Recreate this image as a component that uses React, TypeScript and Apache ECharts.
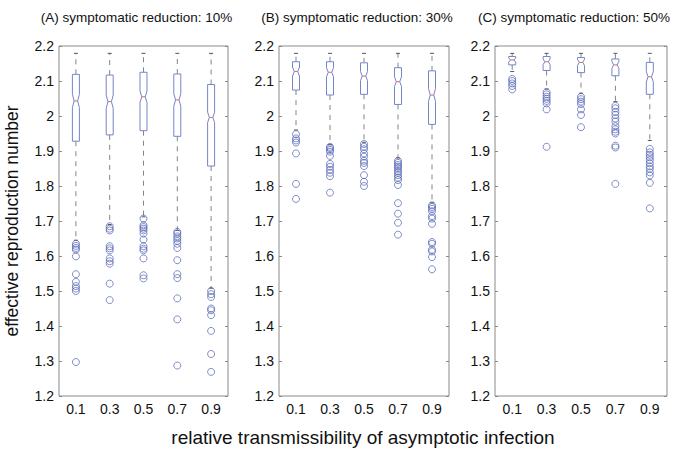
import React, { useEffect, useRef } from 'react';
import * as echarts from 'echarts';

// ---------------- DATA ----------------
const categories = ['0.1', '0.3', '0.5', '0.7', '0.9'];
const panelTitles = [
  '(A) symptomatic reduction: 10%',
  '(B) symptomatic reduction: 30%',
  '(C) symptomatic reduction: 50%',
];
const yAxisName = 'effective reproduction number';
const xAxisName = 'relative transmissibility of asymptotic infection';
const yMin = 1.2;
const yMax = 2.2;
const yStep = 0.1;

// box stats per category: [lower whisker, Q1, median, Q3, upper whisker]
const boxA = [
  [1.645, 1.928, 2.043, 2.119, 2.179],
  [1.690, 1.946, 2.041, 2.117, 2.179],
  [1.712, 1.958, 2.055, 2.125, 2.179],
  [1.673, 1.942, 2.046, 2.120, 2.179],
  [1.508, 1.857, 1.996, 2.090, 2.179],
];
const notchA = [0.019, 0.019, 0.017, 0.018, 0.015];
const outliersA = [
  [1.635, 1.629, 1.623, 1.618, 1.599, 1.548, 1.526, 1.514, 1.507, 1.500, 1.297],
  [1.685, 1.678, 1.673, 1.628, 1.622, 1.616, 1.593, 1.585, 1.578, 1.521, 1.474],
  [1.707, 1.688, 1.683, 1.678, 1.673, 1.664, 1.647, 1.628, 1.621, 1.616, 1.593, 1.545, 1.536],
  [1.669, 1.664, 1.656, 1.650, 1.643, 1.635, 1.623, 1.588, 1.548, 1.537, 1.479, 1.419, 1.287],
  [1.500, 1.491, 1.483, 1.450, 1.445, 1.431, 1.386, 1.320, 1.269],
];

const boxB = [
  [1.960, 2.074, 2.127, 2.155, 2.179],
  [1.918, 2.060, 2.125, 2.155, 2.179],
  [1.925, 2.062, 2.114, 2.152, 2.179],
  [1.880, 2.033, 2.098, 2.138, 2.179],
  [1.752, 1.976, 2.060, 2.129, 2.179],
];
const notchB = [0.013, 0.013, 0.013, 0.014, 0.018];
const outliersB = [
  [1.948, 1.936, 1.930, 1.924, 1.893, 1.806, 1.763],
  [1.912, 1.908, 1.903, 1.898, 1.886, 1.863, 1.855, 1.846, 1.838, 1.828, 1.781],
  [1.920, 1.912, 1.905, 1.893, 1.884, 1.872, 1.866, 1.857, 1.831, 1.812, 1.800],
  [1.872, 1.866, 1.860, 1.855, 1.850, 1.843, 1.838, 1.831, 1.824, 1.817, 1.803, 1.751, 1.721, 1.695, 1.661],
  [1.745, 1.740, 1.735, 1.728, 1.714, 1.707, 1.692, 1.640, 1.635, 1.618, 1.613, 1.597, 1.562],
];

const boxC = [
  [2.127, 2.146, 2.160, 2.170, 2.179],
  [2.077, 2.130, 2.155, 2.170, 2.179],
  [2.065, 2.124, 2.153, 2.167, 2.179],
  [2.041, 2.115, 2.146, 2.163, 2.179],
  [1.930, 2.062, 2.112, 2.153, 2.179],
];
const notchC = [0.006, 0.008, 0.009, 0.010, 0.015];
const outliersC = [
  [2.106, 2.100, 2.093, 2.086, 2.076],
  [2.068, 2.062, 2.055, 2.049, 2.043, 2.036, 2.019, 1.912],
  [2.055, 2.048, 2.041, 2.034, 2.019, 2.003, 1.968],
  [2.029, 2.022, 2.012, 2.003, 1.993, 1.984, 1.971, 1.962, 1.955, 1.950, 1.915, 1.910, 1.806],
  [1.906, 1.896, 1.889, 1.882, 1.874, 1.865, 1.856, 1.849, 1.839, 1.830, 1.809, 1.736],
];

const panels = [
  { box: boxA, notch: notchA, outliers: outliersA },
  { box: boxB, notch: notchB, outliers: outliersB },
  { box: boxC, notch: notchC, outliers: outliersC },
];

// ---------------- STYLE / LAYOUT ----------------
const FONT = '"Liberation Sans", Arial, Helvetica, sans-serif';
const gridLayout = [
  { left: 59, width: 169 },
  { left: 279, width: 170 },
  { left: 495, width: 172 },
];
const GRID_TOP = 46;
const GRID_H = 350;
const BOX_COLOR = '#7585c9';
const MED_COLOR = '#d46a6a';
const WHISKER_COLOR = '#858585';
const CAP_COLOR = '#555555';
const OUT_COLOR = '#4f62b3';
const FRAME_COLOR = '#8a8a8a';

const renderBox = (params: any, api: any) => {
  const idx = api.value(0);
  const low = api.value(1);
  const q1 = api.value(2);
  const med = api.value(3);
  const q3 = api.value(4);
  const high = api.value(5);
  const notch = api.value(6);
  const cx = api.coord([idx, med])[0];
  const yLow = api.coord([idx, low])[1];
  const yQ1 = api.coord([idx, q1])[1];
  const yMed = api.coord([idx, med])[1];
  const yQ3 = api.coord([idx, q3])[1];
  const yHigh = api.coord([idx, high])[1];
  const yNHi = api.coord([idx, Math.min(med + notch, q3)])[1];
  const yNLo = api.coord([idx, Math.max(med - notch, q1)])[1];
  const w = 3.5;
  const wn = 1.75;
  const dashStyle = { stroke: WHISKER_COLOR, lineWidth: 1, lineDash: [5, 5] };
  return {
    type: 'group',
    children: [
      { type: 'line', shape: { x1: cx, y1: yQ3, x2: cx, y2: yHigh }, style: dashStyle },
      { type: 'line', shape: { x1: cx, y1: yQ1, x2: cx, y2: yLow }, style: dashStyle },
      { type: 'line', shape: { x1: cx - 2, y1: yHigh, x2: cx + 2, y2: yHigh }, style: { stroke: CAP_COLOR, lineWidth: 1 } },
      { type: 'line', shape: { x1: cx - 2, y1: yLow, x2: cx + 2, y2: yLow }, style: { stroke: CAP_COLOR, lineWidth: 1 } },
      {
        type: 'polygon',
        shape: {
          points: [
            [cx - w, yQ3], [cx + w, yQ3], [cx + w, yNHi], [cx + wn, yMed], [cx + w, yNLo],
            [cx + w, yQ1], [cx - w, yQ1], [cx - w, yNLo], [cx - wn, yMed], [cx - w, yNHi],
          ],
        },
        style: { fill: 'none', stroke: BOX_COLOR, lineWidth: 1 },
      },
      { type: 'line', shape: { x1: cx - wn, y1: yMed, x2: cx + wn, y2: yMed }, style: { stroke: MED_COLOR, lineWidth: 1 } },
    ],
  };
};

export default function App() {
  const ref = useRef<HTMLDivElement>(null);
  useEffect(() => {
    if (!ref.current) return;
    const chart = echarts.init(ref.current, null, { renderer: 'svg' });

    const grid = gridLayout.map((g) => ({
      left: g.left, width: g.width, top: GRID_TOP, height: GRID_H,
      show: true, borderColor: FRAME_COLOR, borderWidth: 1, backgroundColor: 'transparent',
    }));
    const xAxis = panels.map((_, i) => ({
      gridIndex: i, type: 'category', data: categories, boundaryGap: true,
      axisLine: { show: false }, axisTick: { show: false }, splitLine: { show: false },
      axisLabel: { fontSize: 14, color: '#111', fontFamily: FONT, margin: 6 },
    }));
    const yAxisLeft = panels.map((_, i) => ({
      gridIndex: i, type: 'value', min: yMin, max: yMax, interval: yStep, position: 'left',
      axisLine: { show: false }, splitLine: { show: false },
      axisTick: { show: true, inside: true, length: 3, lineStyle: { color: FRAME_COLOR } },
      axisLabel: { fontSize: 14, color: '#111', fontFamily: FONT, margin: 5 },
      name: i === 0 ? yAxisName : '',
      nameLocation: 'middle', nameGap: 38,
      nameTextStyle: { fontSize: 17.5, color: '#111', fontFamily: FONT },
    }));
    const yAxisRight = panels.map((_, i) => ({
      gridIndex: i, type: 'value', min: yMin, max: yMax, interval: yStep, position: 'right',
      axisLine: { show: false }, splitLine: { show: false },
      axisTick: { show: true, inside: true, length: 3, lineStyle: { color: FRAME_COLOR } },
      axisLabel: { show: false },
    }));

    const series: any[] = [];
    panels.forEach((p, i) => {
      series.push({
        type: 'custom', xAxisIndex: i, yAxisIndex: i,
        renderItem: renderBox,
        encode: { x: 0, y: [1, 2, 3, 4, 5] },
        data: p.box.map((b, k) => [k, ...b, p.notch[k]]),
        z: 2,
      });
      const pts: number[][] = [];
      p.outliers.forEach((arr, k) => arr.forEach((v) => pts.push([k, v])));
      series.push({
        type: 'scatter', xAxisIndex: i, yAxisIndex: i,
        symbol: 'circle', symbolSize: 7,
        itemStyle: { color: 'rgba(0,0,0,0)', borderColor: OUT_COLOR, borderWidth: 0.9 },
        data: pts, z: 3,
      });
    });

    const graphic: any[] = panelTitles.map((t, i) => ({
      type: 'text',
      x: gridLayout[i].left + gridLayout[i].width / 2 - 7,
      y: 17,
      style: { text: t, fontSize: 13.5, fill: '#111', fontFamily: FONT, textAlign: 'center', textVerticalAlign: 'middle' },
    }));
    graphic.push({
      type: 'text', x: 363, y: 437,
      style: { text: xAxisName, fontSize: 19, fill: '#111', fontFamily: FONT, textAlign: 'center', textVerticalAlign: 'middle' },
    });

    chart.setOption({
      animation: false,
      backgroundColor: '#fff',
      grid,
      xAxis,
      yAxis: [...yAxisLeft, ...yAxisRight],
      series,
      graphic,
    });
    return () => chart.dispose();
  }, []);
  return <div ref={ref} style={{ position: 'fixed', left: 0, top: 0, width: 675, height: 450 }} />;
}
